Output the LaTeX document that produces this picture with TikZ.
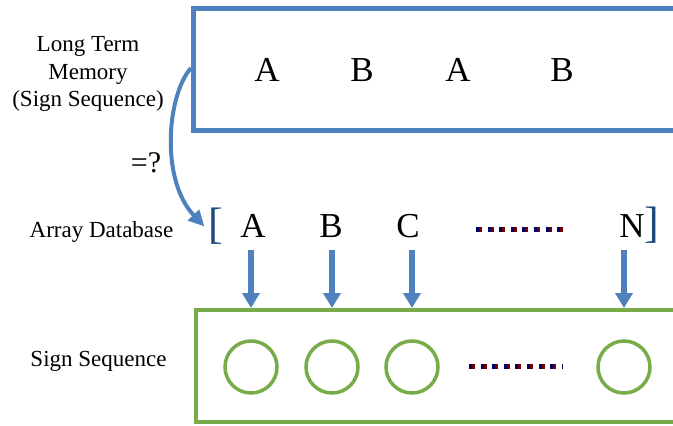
\documentclass[tikz,border=0pt]{standalone}
\usepackage{fontspec}
\setmainfont{Liberation Serif}
\usetikzlibrary{arrows.meta}
\definecolor{boxblue}{RGB}{79,129,189}
\definecolor{boxgreen}{RGB}{119,172,72}
\definecolor{brkblue}{RGB}{31,73,125}
\definecolor{dotnavy}{RGB}{0,0,100}
\definecolor{dotred}{RGB}{112,0,0}

\begin{document}
\begin{tikzpicture}[x=1pt,y=-1pt,>=Latex,
  lbl/.style={font=\fontsize{23}{27.5}\selectfont,align=center},
  sym/.style={font=\fontsize{35}{35}\selectfont,inner sep=2pt},
  brk/.style={font=\fontsize{44}{44}\selectfont,inner sep=0pt,text=brkblue},
  cell/.style={circle,draw=boxgreen,line width=3.5pt,minimum size=52pt,inner sep=0pt},
  downarr/.style={boxblue,line width=6pt,shorten <=10pt,-{Triangle[width=17pt,length=15pt]}},
  dotrow/.style={line width=5pt}]
  \useasboundingbox (0,0) rectangle (673,426);
  % long term memory
  \draw[boxblue,line width=5pt] (193,8) rectangle (700,130);
  \node[lbl] (ltm) at (88,74) {Long Term\\Memory\\(Sign Sequence)};
  \node[sym] (m1) at (267,70) {A};
  \node[sym] (m2) at (362,70) {B};
  \node[sym] (m3) at (458,70) {A};
  \node[sym] (m4) at (562,70) {B};
  \coordinate (ltmedge) at (191,68);
  % array database
  \node[lbl] (adb) at (101.5,232) {Array Database};
  \node[brk] (lbr) at (216,226.5) {[};
  \node[brk] (rbr) at (652,225.5) {]};
  \node[sym] (la) at (253,226) {A};
  \node[sym] (lb) at (331,226) {B};
  \node[sym] (lc) at (408,226) {C};
  \node[sym] (ln) at (632,226) {N};
  \node[font=\fontsize{30}{30}\selectfont] (eq) at (146,163) {=?};
  \draw[->,boxblue,line width=4pt,-{Triangle[width=15pt,length=16pt]}]
    (ltmedge) .. controls (167,95) and (160,180) .. ([xshift=-4pt]lbr.west);
  \draw[dotrow,dotnavy,dash pattern=on 3pt off 8.6pt] (476,229) -- (568,229);
  \draw[dotrow,dotred,dash pattern=on 3pt off 8.6pt,dash phase=-3pt] (476,229) -- (568,229);
  % sign sequence
  \node[lbl] (sseq) at (98.5,361) {Sign Sequence};
  \draw[boxgreen,line width=3.5pt] (196,310) rectangle (700,422);
  \coordinate (seqtop) at (0,308);
  \node[cell] (c1) at (251,367) {};
  \node[cell] (c2) at (332,367) {};
  \node[cell] (c3) at (412,367) {};
  \node[cell] (cn) at (624,367) {};
  \draw[dotrow,dotnavy,dash pattern=on 3pt off 8.6pt] (469,366) -- (562,366);
  \draw[dotrow,dotred,dash pattern=on 3pt off 8.6pt,dash phase=-3pt] (469,366) -- (562,366);
  \draw[downarr] (la.south -| c1) -- (c1 |- seqtop);
  \draw[downarr] (lb.south -| c2) -- (c2 |- seqtop);
  \draw[downarr] (lc.south -| c3) -- (c3 |- seqtop);
  \draw[downarr] (ln.south -| cn) -- (cn |- seqtop);
\end{tikzpicture}
\end{document}
